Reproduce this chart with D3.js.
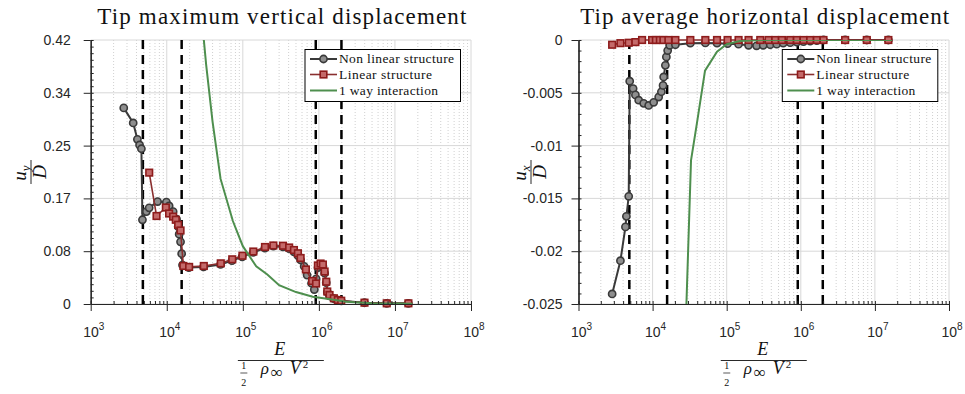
<!DOCTYPE html>
<html>
<head>
<meta charset="utf-8">
<script src="https://cdn.jsdelivr.net/npm/d3@7"></script>
<style>
  body { margin: 0; background: #fff; }
</style>
</head>
<body>
<div id="chart"></div>
<script>
// ---- data ----
// x axis: E / (1/2 rho V^2), log scale
var xDecades = [1e3, 1e4, 1e5, 1e6, 1e7, 1e8];
var regimeE = [4850, 15700, 910000, 1980000];   // dashed vertical lines

// left panel: tip maximum vertical displacement u_y / D
var vertTicks = [0, 0.084, 0.168, 0.252, 0.336, 0.42];
var vertTickLabels = ["0", "0.08", "0.17", "0.25", "0.34", "0.42"];

var vertNonlinE = [2720, 3620, 4110, 4390, 4640, 4790, 5400, 5870, 7570, 9880,
  10750, 12130, 13450, 14130, 14560, 15180, 15700, 16110, 19500, 30500,
  51000, 72000, 98000, 137000, 195000, 252000, 337000, 406000, 470000, 530000,
  575000, 640000, 700000, 800000, 871000, 920000, 975000, 1050000, 1130000, 1190000,
  1250000, 1290000, 1380000, 1570000, 1770000, 1970000, 3980000, 7800000, 15000000];
var vertNonlinU = [0.312, 0.288, 0.262, 0.253, 0.247, 0.134, 0.147, 0.153, 0.163, 0.162,
  0.156, 0.147, 0.135, 0.123, 0.111, 0.099, 0.080, 0.062, 0.058, 0.059,
  0.063, 0.069, 0.075, 0.082, 0.089, 0.092, 0.091, 0.088, 0.083, 0.077,
  0.070, 0.060, 0.046, 0.033, 0.023, 0.040, 0.058, 0.062, 0.060, 0.049,
  0.034, 0.019, 0.013, 0.0085, 0.006, 0.005, 0.002, 0.001, 0.001];

var vertLinE = [5880, 7340, 9730, 10740, 12130, 13150, 14120, 15180, 16520, 19680,
  30690, 51290, 72610, 98840, 137400, 195600, 252100, 337300, 406500, 469800,
  530200, 575400, 675000, 814700, 918700, 970000, 1052000, 1129000, 1189000, 1251000,
  1289000, 1381000, 1573000, 1775000, 1967000, 3978000, 7805000, 15030000];
var vertLinU = [0.209, 0.140, 0.1535, 0.144, 0.139, 0.134, 0.126, 0.117, 0.0605, 0.059,
  0.0605, 0.0647, 0.0711, 0.0768, 0.0835, 0.0907, 0.0931, 0.0927, 0.0899, 0.0859,
  0.0807, 0.0732, 0.0549, 0.0366, 0.0326, 0.0613, 0.0644, 0.0628, 0.0517, 0.0355,
  0.0199, 0.0143, 0.0091, 0.0064, 0.0052, 0.0021, 0.0011, 0.0011];

// 1 way interaction (same E samples for both panels)
var oneWayE = [28600, 33000, 40000, 51000, 74000, 100000, 150000, 210000, 300000, 500000,
  830000, 1500000, 2300000, 5000000, 10000000, 17000000];
var oneWayUy = [0.46, 0.38, 0.29, 0.199, 0.132, 0.092, 0.060, 0.047, 0.030, 0.019,
  0.0117, 0.0070, 0.0037, 0.0012, 0.0006, 0.0004];
var oneWayUx = [-0.025, -0.0114, -0.0077, -0.0029, -0.0011, -0.0004, -0.0001, -0.00004, 0, 0,
  0, 0, 0, 0, 0, 0];

// right panel: tip average horizontal displacement u_x / D
var horzTicks = [-0.025, -0.02, -0.015, -0.01, -0.005, 0];
var horzTickLabels = ["-0.025", "-0.02", "-0.015", "-0.01", "-0.005", "0"];

var horzNonlinE = [2845, 3680, 4300, 4430, 4760, 4910, 5460, 5860, 6490, 7580,
  8850, 10340, 12080, 13140, 13840, 14110, 14870, 15340, 15970, 17000,
  20300, 32300, 51500, 74000, 102800, 144600, 197200, 253000, 311000, 387000,
  473000, 579000, 719500, 885600, 1087000, 1339000, 1648000, 2023000, 3966000, 7775000,
  15200000];
var horzNonlinU = [-0.02405, -0.0209, -0.0177, -0.0167, -0.0148, -0.0039, -0.0046, -0.0052, -0.0057, -0.0060,
  -0.0062, -0.0059, -0.0054, -0.0049, -0.0043, -0.0035, -0.0024, -0.0016, -0.0010, -0.0005,
  -0.00045, -0.0003, -0.00028, -0.0003, -0.00035, -0.0004, -0.0005, -0.00055, -0.0005, -0.00045,
  -0.0004, -0.0003, -0.00025, -0.0002, -0.00015, -0.0001, -0.00005, 0, 0, 0,
  0];

var horzLinE = [2845, 3680, 4760, 5860, 7210, 9840, 11070, 12530, 13990, 16340,
  20300, 32300, 51500, 74000, 102800, 144600, 197200, 283700, 367200, 451900,
  556000, 719500, 885600, 1087000, 1339000, 1648000, 2023000, 3966000, 7775000, 15200000];
var horzLinU = [-0.00045, -0.0003, -0.00026, -0.0002, 0, 0, 0, 0, 0, 0,
  0, 0, 0, 0, 0, 0, 0, 0, 0, 0,
  0, 0, 0, 0, 0, 0, 0, 0, 0, 0];

var legendNames = ["Non linear structure", "Linear structure", "1 way interaction"];

// ---- layout ----
var W = 965, H = 394;
var plotTop = 40, plotBottom = 304;
var sans = "'Liberation Sans', Arial, Helvetica, sans-serif";
var serif = "'Liberation Serif', 'Times New Roman', serif";
var inkColor = "#262626";
var nonlinColor = "#3a3a3a", nonlinFill = "#8e8e8e";
var linColor = "#8a2f2f", linEdge = "#8e1c1c", linFill = "#c46a6a";
var oneWayColor = "#4e8f4e";

var svg = d3.select("#chart").append("svg")
  .attr("width", W)
  .attr("height", H);

svg.append("rect").attr("width", W).attr("height", H).attr("fill", "#fff");

function zip(a, b) { return a.map(function(d, i) { return [d, b[i]]; }); }

// minor tick positions 2..9 x 10^k
var minorE = [];
for (var k = 3; k < 8; k++) {
  for (var m = 2; m <= 9; m++) minorE.push(m * Math.pow(10, k));
}

function drawPanel(p) {
  var x = d3.scaleLog().domain([1e3, 1e8]).range([p.left, p.right]);
  var y = d3.scaleLinear().domain(p.yDomain).range([plotBottom, plotTop]);
  var g = svg.append("g");

  g.append("clipPath").attr("id", "clip-" + p.id)
    .append("rect")
      .attr("x", p.left).attr("y", plotTop)
      .attr("width", p.right - p.left).attr("height", plotBottom - plotTop);

  // grid: dotted minor verticals, light solid majors
  g.append("g").selectAll("line")
    .data(minorE)
    .enter().append("line")
      .attr("x1", function(d) { return x(d); })
      .attr("x2", function(d) { return x(d); })
      .attr("y1", plotTop).attr("y2", plotBottom)
      .attr("stroke", "#c4c4c4")
      .attr("stroke-width", 0.8)
      .attr("stroke-dasharray", "1,2");

  g.append("g").selectAll("line")
    .data(xDecades.slice(1))
    .enter().append("line")
      .attr("x1", function(d) { return x(d); })
      .attr("x2", function(d) { return x(d); })
      .attr("y1", plotTop).attr("y2", plotBottom)
      .attr("stroke", "#d8d8d8")
      .attr("stroke-width", 1);

  g.append("g").selectAll("line")
    .data(p.yTicks)
    .enter().append("line")
      .attr("x1", p.left).attr("x2", p.right)
      .attr("y1", function(d) { return y(d); })
      .attr("y2", function(d) { return y(d); })
      .attr("stroke", "#d8d8d8")
      .attr("stroke-width", 1);

  // regime boundaries
  g.append("g").selectAll("line")
    .data(regimeE)
    .enter().append("line")
      .attr("x1", function(d) { return x(d); })
      .attr("x2", function(d) { return x(d); })
      .attr("y1", plotTop).attr("y2", plotBottom)
      .attr("stroke", "#000")
      .attr("stroke-width", 2.5)
      .attr("stroke-dasharray", "9,6");

  var line = d3.line()
    .x(function(d) { return x(d[0]); })
    .y(function(d) { return y(d[1]); });

  // non linear structure
  var nonlin = zip(p.nonlinE, p.nonlinU);
  g.append("path")
    .datum(nonlin)
    .attr("d", line)
    .attr("fill", "none")
    .attr("stroke", nonlinColor)
    .attr("stroke-width", 2);
  g.append("g").selectAll("circle")
    .data(nonlin)
    .enter().append("circle")
      .attr("cx", function(d) { return x(d[0]); })
      .attr("cy", function(d) { return y(d[1]); })
      .attr("r", 3.6)
      .attr("fill", nonlinFill)
      .attr("stroke", nonlinColor)
      .attr("stroke-width", 1.6);

  // linear structure
  var lin = zip(p.linE, p.linU);
  g.append("path")
    .datum(lin)
    .attr("d", line)
    .attr("fill", "none")
    .attr("stroke", linColor)
    .attr("stroke-width", 1.6);
  g.append("g").selectAll("rect")
    .data(lin)
    .enter().append("rect")
      .attr("x", function(d) { return x(d[0]) - 3.3; })
      .attr("y", function(d) { return y(d[1]) - 3.3; })
      .attr("width", 6.6).attr("height", 6.6)
      .attr("fill", linFill)
      .attr("stroke", linEdge)
      .attr("stroke-width", 1.6);

  // 1 way interaction
  g.append("path")
    .datum(zip(oneWayE, p.oneWayU))
    .attr("clip-path", "url(#clip-" + p.id + ")")
    .attr("d", line)
    .attr("fill", "none")
    .attr("stroke", oneWayColor)
    .attr("stroke-width", 2);

  // x axis: labels 10^k, major ticks out, minor ticks in
  var xAxis = g.append("g")
    .attr("transform", "translate(0," + plotBottom + ")")
    .call(d3.axisBottom(x).tickValues(xDecades).tickSize(7).tickSizeOuter(0).tickFormat(""));
  xAxis.append("g")
    .call(d3.axisBottom(x).tickValues(xDecades).tickSize(-3).tickSizeOuter(0).tickFormat(""));
  xAxis.append("g")
    .call(d3.axisBottom(x).tickValues(minorE).tickSize(-3).tickSizeOuter(0).tickFormat(""));
  xAxis.selectAll("path.domain").attr("stroke", inkColor).attr("stroke-width", 1.2);
  xAxis.selectAll("line").attr("stroke", inkColor);
  xAxis.selectAll(".tick text").remove();

  var xLab = g.append("g")
    .attr("font-family", sans)
    .attr("fill", inkColor);
  xDecades.forEach(function(d) {
    var t = xLab.append("text")
      .attr("x", x(d) + 3)
      .attr("y", plotBottom + 33)
      .attr("text-anchor", "middle")
      .attr("font-size", 14);
    t.append("tspan").text("10");
    t.append("tspan")
      .attr("dy", -7)
      .attr("font-size", 10)
      .text(Math.round(Math.log10(d)));
  });

  // y axis
  var yAxis = g.append("g")
    .attr("transform", "translate(" + p.left + ",0)")
    .call(d3.axisLeft(y).tickValues(p.yTicks).tickSize(7).tickSizeOuter(0).tickPadding(p.yPad)
      .tickFormat(function(d, i) { return p.yLabels[i]; }));
  yAxis.append("g")
    .call(d3.axisLeft(y).tickValues(p.yMinor).tickSize(-3).tickSizeOuter(0).tickFormat(""));
  yAxis.selectAll("path.domain").attr("stroke", inkColor).attr("stroke-width", 1.2);
  yAxis.selectAll("line").attr("stroke", inkColor);
  yAxis.selectAll("text")
    .attr("font-family", sans)
    .attr("font-size", 14)
    .attr("fill", inkColor);

  // legend
  var lg = g.append("g")
    .attr("transform", "translate(" + p.legendX + "," + 49.5 + ")");
  lg.append("rect")
    .attr("width", 155.5).attr("height", 52)
    .attr("fill", "#fff")
    .attr("stroke", "#000")
    .attr("stroke-width", 1);
  var rows = [9.5, 25, 41];
  var lens = [115, 93, 99];
  legendNames.forEach(function(name, i) {
    var ry = rows[i];
    var col = [nonlinColor, linColor, oneWayColor][i];
    lg.append("line")
      .attr("x1", 5).attr("x2", 32).attr("y1", ry).attr("y2", ry)
      .attr("stroke", col)
      .attr("stroke-width", i === 1 ? 1.6 : 2);
    if (i === 0) {
      lg.append("circle").attr("cx", 18.5).attr("cy", ry).attr("r", 3.6)
        .attr("fill", nonlinFill).attr("stroke", nonlinColor).attr("stroke-width", 1.6);
    } else if (i === 1) {
      lg.append("rect").attr("x", 15.2).attr("y", ry - 3.3).attr("width", 6.6).attr("height", 6.6)
        .attr("fill", linFill).attr("stroke", linEdge).attr("stroke-width", 1.6);
    }
    lg.append("text")
      .attr("x", 34)
      .attr("y", ry + 4)
      .attr("font-family", serif)
      .attr("font-size", 13.5)
      .attr("textLength", lens[i])
      .attr("lengthAdjust", "spacing")
      .attr("fill", "#111")
      .text(name);
  });

  // title
  g.append("text")
    .attr("x", (p.left + p.right) / 2 + 1)
    .attr("y", 24)
    .attr("text-anchor", "middle")
    .attr("font-family", serif)
    .attr("font-size", 23)
    .attr("textLength", 369)
    .attr("lengthAdjust", "spacing")
    .attr("fill", "#111")
    .text(p.title);

  // x label: E / (1/2 rho_inf V^2)
  var cx = (p.left + p.right) / 2;
  var xl = g.append("g").attr("font-family", serif).attr("fill", "#111");
  xl.append("text").attr("x", cx - 1).attr("y", 355)
    .attr("text-anchor", "middle").attr("font-style", "italic").attr("font-size", 18).text("E");
  xl.append("line").attr("x1", cx - 43).attr("x2", cx + 43).attr("y1", 360.5).attr("y2", 360.5)
    .attr("stroke", "#111").attr("stroke-width", 0.9);
  xl.append("text").attr("x", cx - 37).attr("y", 369).attr("text-anchor", "middle")
    .attr("font-size", 10).text("1");
  xl.append("line").attr("x1", cx - 40.5).attr("x2", cx - 33.5).attr("y1", 373).attr("y2", 373)
    .attr("stroke", "#111").attr("stroke-width", 0.7);
  xl.append("text").attr("x", cx - 37).attr("y", 386).attr("text-anchor", "middle")
    .attr("font-size", 10).text("2");
  xl.append("text").attr("x", cx - 20).attr("y", 373.5)
    .attr("font-style", "italic").attr("font-size", 17).text("ρ");
  xl.append("text").attr("x", cx - 10).attr("y", 377.5)
    .attr("font-size", 17).text("∞");
  xl.append("text").attr("x", cx + 9).attr("y", 373.5)
    .attr("font-style", "italic").attr("font-size", 18).text("V");
  xl.append("text").attr("x", cx + 22).attr("y", 367.5)
    .attr("font-size", 11).text("2");

  // y label: u_? / D, rotated
  var yl = g.append("g")
    .attr("transform", "translate(" + p.yLabelX + "," + (plotTop + plotBottom) / 2 + ") rotate(-90)")
    .attr("font-family", serif)
    .attr("fill", "#111");
  var num = yl.append("text").attr("x", -1).attr("y", -5)
    .attr("text-anchor", "middle").attr("font-style", "italic").attr("font-size", 19);
  num.append("tspan").text("u");
  num.append("tspan").attr("dy", 4).attr("font-size", 13).text(p.sub);
  yl.append("line").attr("x1", -12).attr("x2", 12).attr("y1", 0).attr("y2", 0)
    .attr("stroke", "#111").attr("stroke-width", 0.9);
  yl.append("text").attr("x", 0).attr("y", 15)
    .attr("text-anchor", "middle").attr("font-style", "italic").attr("font-size", 19).text("D");
}

var vertMinor = d3.range(0, 41).map(function(i) { return i * 0.0105; });
var horzMinor = d3.range(0, 26).map(function(i) { return -i * 0.001; });

drawPanel({
  id: "vert", left: 90.7, right: 471,
  yDomain: [0, 0.42], yTicks: vertTicks, yLabels: vertTickLabels, yMinor: vertMinor, yPad: 13,
  nonlinE: vertNonlinE, nonlinU: vertNonlinU,
  linE: vertLinE, linU: vertLinU,
  oneWayU: oneWayUy,
  legendX: 305, yLabelX: 31, sub: "y",
  title: "Tip maximum vertical displacement"
});

drawPanel({
  id: "horz", left: 578.5, right: 949,
  yDomain: [-0.025, 0], yTicks: horzTicks, yLabels: horzTickLabels, yMinor: horzMinor, yPad: 9,
  nonlinE: horzNonlinE, nonlinU: horzNonlinU,
  linE: horzLinE, linU: horzLinU,
  oneWayU: oneWayUx,
  legendX: 782.3, yLabelX: 531, sub: "x",
  title: "Tip average horizontal displacement"
});
</script>
</body>
</html>
